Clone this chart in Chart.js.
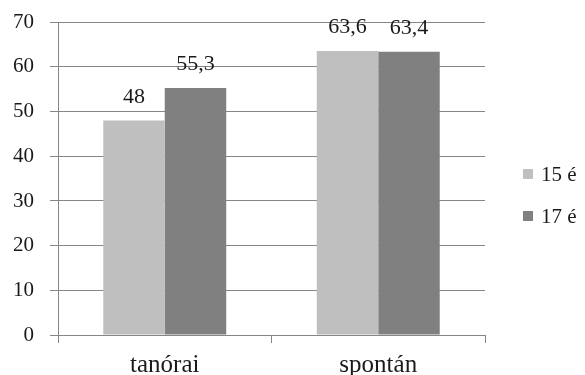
<!DOCTYPE html>
<html>
<head>
<meta charset="utf-8">
<script src="https://cdn.jsdelivr.net/npm/chart.js@4/dist/chart.umd.min.js"></script>
<style>
  html, body { margin: 0; padding: 0; background: #fff; }
  #wrap { width: 585px; height: 375px; }
</style>
</head>
<body>
<div id="wrap"><canvas id="c" width="585" height="375"></canvas></div>
<script>
const categories = ['tanórai', 'spontán'];
const seriesNames = ['15 é', '17 é'];
const values15 = [48, 63.6];
const values17 = [55.3, 63.4];
const yTicks = [0, 10, 20, 30, 40, 50, 60, 70];

const FONT = "'Liberation Serif', 'Times New Roman', serif";
const colors = ['#bfbfbf', '#808080'];
const lineColor = '#868686';
const textColor = '#1a1a1a';

const fmt = v => String(v).replace('.', ',');

// value labels above each bar + legend on the right
const extras = {
  id: 'extras',
  afterDatasetsDraw(chart) {
    const ctx = chart.ctx;
    ctx.save();
    ctx.font = '22px ' + FONT;
    ctx.fillStyle = textColor;
    ctx.textAlign = 'center';
    ctx.textBaseline = 'alphabetic';
    chart.data.datasets.forEach((ds, i) => {
      chart.getDatasetMeta(i).data.forEach((bar, j) => {
        ctx.fillText(fmt(ds.data[j]), bar.x, bar.y - 18);
      });
    });
    // legend
    const lx = 523, ly = [174, 216];
    ctx.font = '21px ' + FONT;
    chart.data.datasets.forEach((ds, i) => {
      ctx.fillStyle = ds.backgroundColor;
      ctx.fillRect(lx, ly[i] - 5, 10, 10);
      ctx.fillStyle = textColor;
      ctx.textAlign = 'left';
      ctx.textBaseline = 'alphabetic';
      ctx.fillText(ds.label, lx + 18, ly[i] + 7);
    });
    ctx.restore();
  }
};

new Chart(document.getElementById('c'), {
  type: 'bar',
  data: {
    labels: categories,
    datasets: [
      { label: seriesNames[0], data: values15, backgroundColor: colors[0] },
      { label: seriesNames[1], data: values17, backgroundColor: colors[1] }
    ]
  },
  options: {
    responsive: false,
    animation: false,
    devicePixelRatio: 1,
    layout: { padding: { top: 22, right: 100, left: 0, bottom: 0 } },
    datasets: { bar: { categoryPercentage: 0.576, barPercentage: 1.0 } },
    plugins: { legend: { display: false }, tooltip: { enabled: false } },
    scales: {
      x: {
        offset: true,
        grid: { offset: true, drawOnChartArea: false, color: lineColor, tickLength: 8 },
        border: { color: lineColor, width: 1 },
        ticks: { color: textColor, font: { family: FONT, size: 25 }, padding: 7 },
        afterFit(scale) { scale.height = 40; }
      },
      y: {
        min: 0, max: 70,
        afterBuildTicks(scale) { scale.ticks = yTicks.map(v => ({ value: v })); },
        grid: { color: lineColor, tickLength: 8 },
        border: { color: lineColor, width: 1 },
        ticks: { color: textColor, font: { family: FONT, size: 21, lineHeight: 0.6 }, padding: 16 },
        afterFit(scale) { scale.width = 58; }
      }
    }
  },
  plugins: [extras]
});
</script>
</body>
</html>
